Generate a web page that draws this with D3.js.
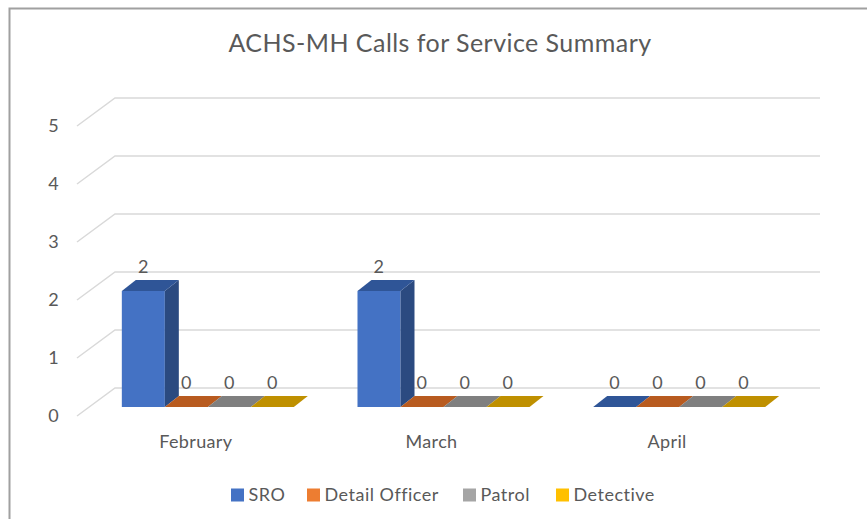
<!DOCTYPE html>
<html>
<head>
<meta charset="utf-8">
<style>
  body { margin: 0; background: #fff; }
  svg { display: block; font-family: Lato, "Open Sans", sans-serif; }
  .lbl { fill: #595959; letter-spacing: 0.35px; }
</style>
</head>
<body>
<div id="chart"></div>
<script src="https://d3js.org/d3.v7.min.js"></script>
<script>
const months = ['February', 'March', 'April'];
const series = ['SRO', 'Detail Officer', 'Patrol', 'Detective'];
const sro = [2, 2, 0];
const detailOfficer = [0, 0, 0];
const patrol = [0, 0, 0];
const detective = [0, 0, 0];
const yTicks = [0, 1, 2, 3, 4, 5];

const values = [sro, detailOfficer, patrol, detective];

const width = 867;
const height = 519;

// colours: front, side, top
const frontColor = ['#4472C4', '#ED7D31', '#A5A5A5', '#FFC000'];
const sideColor = ['#2B4A80', '#9E4A14', '#6B6B6B', '#A67C00'];
const topColor = ['#2F5597', '#B85B1F', '#7F7F7F', '#BF9000'];

// offsets from the bar front plane
const barDepth = { dx: 14, dy: -11 };
const wallOff = { dx: 25, dy: -19 };
const floorOff = { dx: -12, dy: 9 };

const svg = d3.select('#chart')
  .append('svg')
  .attr('width', width)
  .attr('height', height);

// chart border (left + top only visible)
svg.append('path')
  .attr('d', `M9.5,${height} V8.5 H${width}`)
  .attr('fill', 'none')
  .attr('stroke', '#a0a0a0')
  .attr('stroke-width', 2);

// title
svg.append('text')
  .attr('class', 'lbl')
  .attr('x', 440)
  .attr('y', 52)
  .attr('text-anchor', 'middle')
  .attr('font-size', 25)
  .style('letter-spacing', '0.45px')
  .text('ACHS-MH Calls for Service Summary');

// scales in the bar front plane
const y = d3.scaleLinear().domain([0, 5]).range([407, 407 - 5 * 58]);
const x0 = d3.scaleBand().domain(months).range([90, 797]);
const x1 = d3.scaleBand().domain(series).range([0, x0.bandwidth()]).paddingOuter(0.74);

// back wall gridlines + diagonal side lines
const grid = svg.append('g');
yTicks.forEach(t => {
  const yb = y(t) + wallOff.dy;
  const xl = x0.range()[0] + wallOff.dx;
  const xr = x0.range()[1] + wallOff.dx - 2;
  grid.append('path')
    .attr('d', `M${xl - 38},${yb + 28} L${xl},${yb} H${xr}`)
    .attr('fill', 'none')
    .attr('stroke', '#d9d9d9')
    .attr('stroke-width', 1.5);
});

// y axis labels at the front edge of the floor
const yAxisScale = y.copy().range(y.range().map(v => v + wallOff.dy + 28));
const yAxis = svg.append('g')
  .attr('transform', 'translate(60,0)')
  .call(d3.axisLeft(yAxisScale).tickValues(yTicks).tickSize(0).tickPadding(1).tickFormat(d3.format('d')));
yAxis.select('.domain').remove();
yAxis.selectAll('text')
  .attr('class', 'lbl')
  .attr('font-size', 18)
  .attr('font-family', 'Lato, sans-serif');

// bars
const bars = svg.append('g');
months.forEach((m, mi) => {
  series.forEach((s, si) => {
    const v = values[si][mi];
    const xa = x0(m) + x1(s);
    const w = x1.bandwidth();
    const yt = y(v);
    const yb = y(0);
    const dx = barDepth.dx, dy = barDepth.dy;
    // front face
    if (v > 0) {
      bars.append('rect')
        .attr('x', xa).attr('y', yt)
        .attr('width', w).attr('height', yb - yt)
        .attr('fill', frontColor[si]);
      bars.append('path')
        .attr('d', `M${xa + w},${yt} L${xa + w + dx},${yt + dy} L${xa + w + dx},${yb + dy} L${xa + w},${yb}Z`)
        .attr('fill', sideColor[si]);
    }
    // top face
    bars.append('path')
      .attr('d', `M${xa},${yt} L${xa + dx},${yt + dy} L${xa + w + dx},${yt + dy} L${xa + w},${yt}Z`)
      .attr('fill', topColor[si]);
    // data label
    bars.append('text')
      .attr('class', 'lbl')
      .attr('x', xa + w / 2)
      .attr('y', yt + dy - 7)
      .attr('text-anchor', 'middle')
      .attr('font-size', 18)
      .text(v);
  });
});

// category labels on the floor front edge
svg.append('g').selectAll('text')
  .data(months)
  .join('text')
  .attr('class', 'lbl')
  .attr('x', d => x0(d) + x0.bandwidth() / 2 + floorOff.dx)
  .attr('y', 448)
  .attr('text-anchor', 'middle')
  .attr('font-size', 18)
  .text(d => d);

// legend
const legendX = [231, 307, 463, 556];
const legend = svg.append('g');
series.forEach((s, i) => {
  legend.append('rect')
    .attr('x', legendX[i]).attr('y', 488.5)
    .attr('width', 13).attr('height', 13)
    .attr('fill', frontColor[i]);
  legend.append('text')
    .attr('class', 'lbl')
    .attr('x', legendX[i] + 17.5)
    .attr('y', 501)
    .attr('font-size', 18)
    .style('letter-spacing', '0.5px')
    .text(s);
});
</script>
</body>
</html>
